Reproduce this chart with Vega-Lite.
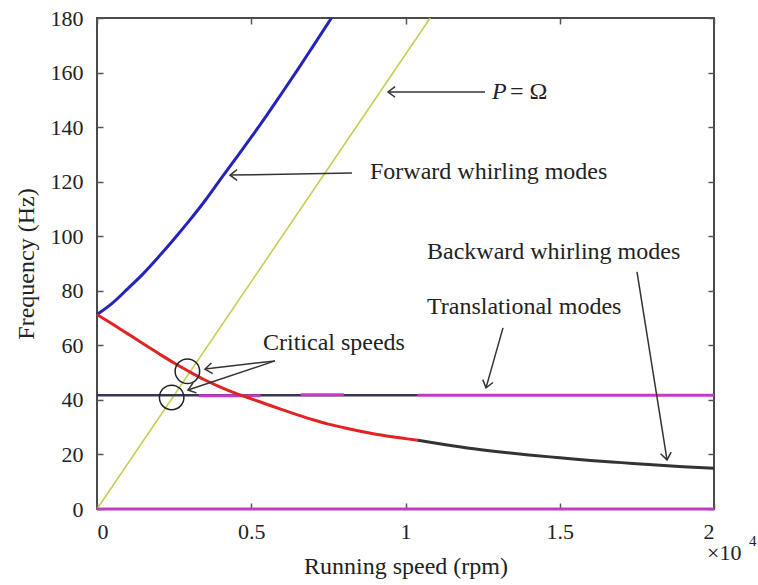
{
  "$schema": "https://vega.github.io/schema/vega-lite/v6.json",
  "width": 617,
  "height": 491,
  "autosize": "none",
  "padding": {"left": 97, "top": 18, "right": 44, "bottom": 76},
  "config": {
    "view": {"stroke": "#4a4a4a", "strokeWidth": 2},
    "font": "Liberation Serif",
    "axis": {
      "domain": false,
      "grid": false,
      "tickColor": "#555555",
      "tickWidth": 1.5,
      "tickSize": -6,
      "labelFont": "Liberation Serif",
      "labelFontSize": 22,
      "labelColor": "#222222",
      "titleFont": "Liberation Serif",
      "titleFontSize": 24,
      "titleFontWeight": "normal",
      "titleColor": "#222222"
    }
  },
  "datasets": {
    "curves": [
      {"series": "p", "seg": "a", "rpm": 0, "hz": 0},
      {"series": "p", "seg": "a", "rpm": 10800, "hz": 180},
      {"series": "fw", "seg": "a", "rpm": 0, "hz": 71.3},
      {"series": "fw", "seg": "a", "rpm": 500, "hz": 75.5},
      {"series": "fw", "seg": "a", "rpm": 1000, "hz": 80.8},
      {"series": "fw", "seg": "a", "rpm": 1500, "hz": 86.3},
      {"series": "fw", "seg": "a", "rpm": 2000, "hz": 92.5},
      {"series": "fw", "seg": "a", "rpm": 2500, "hz": 99},
      {"series": "fw", "seg": "a", "rpm": 3000, "hz": 105.8},
      {"series": "fw", "seg": "a", "rpm": 3500, "hz": 113},
      {"series": "fw", "seg": "a", "rpm": 4000, "hz": 120.8},
      {"series": "fw", "seg": "a", "rpm": 4500, "hz": 128.5},
      {"series": "fw", "seg": "a", "rpm": 5000, "hz": 136.3},
      {"series": "fw", "seg": "a", "rpm": 5500, "hz": 144.3},
      {"series": "fw", "seg": "a", "rpm": 6000, "hz": 152.6},
      {"series": "fw", "seg": "a", "rpm": 6500, "hz": 161},
      {"series": "fw", "seg": "a", "rpm": 7000, "hz": 169.6},
      {"series": "fw", "seg": "a", "rpm": 7600, "hz": 180},
      {"series": "bw", "seg": "a", "rpm": 0, "hz": 71.3},
      {"series": "bw", "seg": "a", "rpm": 500, "hz": 67.8},
      {"series": "bw", "seg": "a", "rpm": 1000, "hz": 64.2},
      {"series": "bw", "seg": "a", "rpm": 1500, "hz": 60.6},
      {"series": "bw", "seg": "a", "rpm": 2000, "hz": 57.0},
      {"series": "bw", "seg": "a", "rpm": 2500, "hz": 53.5},
      {"series": "bw", "seg": "a", "rpm": 3000, "hz": 50.3},
      {"series": "bw", "seg": "a", "rpm": 3500, "hz": 47.3},
      {"series": "bw", "seg": "a", "rpm": 4000, "hz": 44.7},
      {"series": "bw", "seg": "a", "rpm": 4500, "hz": 42.4},
      {"series": "bw", "seg": "a", "rpm": 5000, "hz": 40.4},
      {"series": "bw", "seg": "a", "rpm": 5500, "hz": 38.4},
      {"series": "bw", "seg": "a", "rpm": 6000, "hz": 36.4},
      {"series": "bw", "seg": "a", "rpm": 6500, "hz": 34.5},
      {"series": "bw", "seg": "a", "rpm": 7000, "hz": 32.7},
      {"series": "bw", "seg": "a", "rpm": 7500, "hz": 31.1},
      {"series": "bw", "seg": "a", "rpm": 8000, "hz": 29.8},
      {"series": "bw", "seg": "a", "rpm": 8500, "hz": 28.6},
      {"series": "bw", "seg": "a", "rpm": 9000, "hz": 27.5},
      {"series": "bw", "seg": "a", "rpm": 9500, "hz": 26.6},
      {"series": "bw", "seg": "a", "rpm": 10000, "hz": 25.8},
      {"series": "bw", "seg": "a", "rpm": 10400, "hz": 25.2},
      {"series": "bwtail", "seg": "a", "rpm": 10400, "hz": 25.2},
      {"series": "bwtail", "seg": "a", "rpm": 11000, "hz": 24.1},
      {"series": "bwtail", "seg": "a", "rpm": 12000, "hz": 22.4},
      {"series": "bwtail", "seg": "a", "rpm": 13000, "hz": 21.0},
      {"series": "bwtail", "seg": "a", "rpm": 14000, "hz": 19.8},
      {"series": "bwtail", "seg": "a", "rpm": 15000, "hz": 18.8},
      {"series": "bwtail", "seg": "a", "rpm": 16000, "hz": 17.8},
      {"series": "bwtail", "seg": "a", "rpm": 17000, "hz": 17.0},
      {"series": "bwtail", "seg": "a", "rpm": 18000, "hz": 16.2},
      {"series": "bwtail", "seg": "a", "rpm": 19000, "hz": 15.5},
      {"series": "bwtail", "seg": "a", "rpm": 20000, "hz": 14.9},
      {"series": "trdark", "seg": "a", "rpm": 0, "hz": 41.7},
      {"series": "trdark", "seg": "a", "rpm": 10400, "hz": 41.7},
      {"series": "trmag", "seg": "a", "rpm": 10400, "hz": 41.7},
      {"series": "trmag", "seg": "a", "rpm": 20000, "hz": 41.7},
      {"series": "trmag", "seg": "b", "rpm": 3300, "hz": 41.5},
      {"series": "trmag", "seg": "b", "rpm": 5300, "hz": 41.5},
      {"series": "trmag", "seg": "c", "rpm": 6600, "hz": 41.9},
      {"series": "trmag", "seg": "c", "rpm": 8000, "hz": 41.9},
      {"series": "zero", "seg": "a", "rpm": 0, "hz": 0},
      {"series": "zero", "seg": "a", "rpm": 20000, "hz": 0}
    ],
    "arrows": [
      {"arrow": "p", "rpm": 12577, "hz": 152.9, "rpm2": 9433, "hz2": 152.9},
      {"arrow": "fw", "rpm": 8266, "hz": 123.2, "rpm2": 4311, "hz2": 122.4},
      {"arrow": "cu", "rpm": 5770, "hz": 54.3, "rpm2": 3501, "hz2": 51.3},
      {"arrow": "cl", "rpm": 5770, "hz": 54.3, "rpm2": 2950, "hz2": 43.6},
      {"arrow": "tr", "rpm": 13160, "hz": 66.4, "rpm2": 12609, "hz2": 44.4},
      {"arrow": "bw", "rpm": 17504, "hz": 86.9, "rpm2": 18477, "hz2": 18.0}
    ],
    "labels": [
      {"text": "= Ω", "rpm": 13387, "hz": 152.9},
      {"text": "Forward whirling modes", "rpm": 8849, "hz": 123.5},
      {"text": "Critical speeds", "rpm": 5381, "hz": 60.9},
      {"text": "Translational modes", "rpm": 10697, "hz": 74.1},
      {"text": "Backward whirling modes", "rpm": 10697, "hz": 94.2}
    ],
    "italic": [
      {"text": "P", "rpm": 12804, "hz": 152.9}
    ],
    "circles": [
      {"rpm": 2420, "hz": 40.9},
      {"rpm": 2930, "hz": 50.5}
    ],
    "corner": [
      {"rpm": 20000, "hz": 0}
    ]
  },
  "resolve": {"axis": {"x": "independent", "y": "independent"}},
  "layer": [
    {
      "data": {"name": "curves"},
      "transform": [{"filter": "datum.series === 'p'"}],
      "mark": {"type": "line", "color": "#c8cc50", "strokeWidth": 1.6},
      "encoding": {
        "x": {"field": "rpm", "type": "quantitative", "scale": {"domain": [0, 20000]},
              "axis": {"orient": "bottom", "values": [0, 5000, 10000, 15000, 20000], "labelExpr": "datum.value / 10000", "labelFont": "Liberation Serif", "labelFontSize": 22, "labelPadding": 18, "title": "Running speed (rpm)", "titlePadding": 12}},
        "y": {"field": "hz", "type": "quantitative", "scale": {"domain": [0, 180]},
              "axis": {"orient": "left", "values": [0, 20, 40, 60, 80, 100, 120, 140, 160, 180], "labelFont": "Liberation Serif", "labelFontSize": 22, "labelPadding": 20, "title": "Frequency (Hz)", "titlePadding": 12}}
      }
    },
    {
      "data": {"name": "curves"},
      "transform": [{"filter": "datum.series === 'zero'"}],
      "mark": {"type": "line", "color": "#c03cc0", "strokeWidth": 3},
      "encoding": {
        "x": {"field": "rpm", "type": "quantitative", "scale": {"domain": [0, 20000]},
              "axis": {"orient": "top", "values": [0, 5000, 10000, 15000, 20000], "labels": false, "title": null}},
        "y": {"field": "hz", "type": "quantitative", "scale": {"domain": [0, 180]},
              "axis": {"orient": "right", "values": [0, 20, 40, 60, 80, 100, 120, 140, 160, 180], "labels": false, "title": null}}
      }
    },
    {
      "data": {"name": "curves"},
      "transform": [{"filter": "datum.series === 'fw'"}],
      "mark": {"type": "line", "color": "#2424b8", "strokeWidth": 3, "interpolate": "monotone"},
      "encoding": {
        "x": {"field": "rpm", "type": "quantitative", "axis": null},
        "y": {"field": "hz", "type": "quantitative", "axis": null}
      }
    },
    {
      "data": {"name": "curves"},
      "transform": [{"filter": "datum.series === 'trdark'"}],
      "mark": {"type": "line", "color": "#3a3552", "strokeWidth": 2.5},
      "encoding": {
        "x": {"field": "rpm", "type": "quantitative", "axis": null},
        "y": {"field": "hz", "type": "quantitative", "axis": null}
      }
    },
    {
      "data": {"name": "curves"},
      "transform": [{"filter": "datum.series === 'trmag'"}],
      "mark": {"type": "line", "color": "#c03cc0", "strokeWidth": 3},
      "encoding": {
        "x": {"field": "rpm", "type": "quantitative", "axis": null},
        "y": {"field": "hz", "type": "quantitative", "axis": null},
        "detail": {"field": "seg", "type": "nominal"}
      }
    },
    {
      "data": {"name": "curves"},
      "transform": [{"filter": "datum.series === 'bw'"}],
      "mark": {"type": "line", "color": "#e02424", "strokeWidth": 3, "interpolate": "monotone"},
      "encoding": {
        "x": {"field": "rpm", "type": "quantitative", "axis": null},
        "y": {"field": "hz", "type": "quantitative", "axis": null}
      }
    },
    {
      "data": {"name": "curves"},
      "transform": [{"filter": "datum.series === 'bwtail'"}],
      "mark": {"type": "line", "color": "#333333", "strokeWidth": 3, "interpolate": "monotone"},
      "encoding": {
        "x": {"field": "rpm", "type": "quantitative", "axis": null},
        "y": {"field": "hz", "type": "quantitative", "axis": null}
      }
    },
    {
      "data": {"name": "circles"},
      "mark": {"type": "point", "shape": "circle", "filled": false, "size": 600, "stroke": "#222222", "strokeWidth": 1.5, "opacity": 1},
      "encoding": {
        "x": {"field": "rpm", "type": "quantitative", "axis": null},
        "y": {"field": "hz", "type": "quantitative", "axis": null}
      }
    },
    {
      "data": {"name": "arrows"},
      "mark": {"type": "rule", "color": "#333333", "strokeWidth": 1.5},
      "encoding": {
        "x": {"field": "rpm", "type": "quantitative", "axis": null},
        "y": {"field": "hz", "type": "quantitative", "axis": null},
        "x2": {"field": "rpm2"},
        "y2": {"field": "hz2"}
      }
    },
    {
      "data": {"name": "arrows"},
      "mark": {"type": "point", "shape": "M -1 -0.75 L 0 0 L -1 0.75", "filled": false, "size": 200, "stroke": "#333333", "strokeWidth": 1.5, "opacity": 1},
      "encoding": {
        "x": {"field": "rpm2", "type": "quantitative", "axis": null},
        "y": {"field": "hz2", "type": "quantitative", "axis": null},
        "angle": {"field": "arrow", "type": "nominal", "legend": null,
                  "scale": {"type": "ordinal", "domain": ["p", "fw", "cu", "cl", "tr", "bw"], "range": [180, 179, 173.5, 161.6, 105.8, 80.9]}}
      }
    },
    {
      "data": {"name": "labels"},
      "mark": {"type": "text", "align": "left", "baseline": "middle", "font": "Liberation Serif", "fontSize": 24, "color": "#222222"},
      "encoding": {
        "x": {"field": "rpm", "type": "quantitative", "axis": null},
        "y": {"field": "hz", "type": "quantitative", "axis": null},
        "text": {"field": "text"}
      }
    },
    {
      "data": {"name": "italic"},
      "mark": {"type": "text", "align": "left", "baseline": "middle", "font": "Liberation Serif", "fontStyle": "italic", "fontSize": 24, "color": "#222222"},
      "encoding": {
        "x": {"field": "rpm", "type": "quantitative", "axis": null},
        "y": {"field": "hz", "type": "quantitative", "axis": null},
        "text": {"field": "text"}
      }
    },
    {
      "data": {"name": "corner"},
      "mark": {"type": "text", "align": "left", "baseline": "middle", "font": "Liberation Serif", "fontSize": 22, "color": "#222222", "dx": -7, "dy": 44, "text": "×10"},
      "encoding": {
        "x": {"field": "rpm", "type": "quantitative", "axis": null},
        "y": {"field": "hz", "type": "quantitative", "axis": null}
      }
    },
    {
      "data": {"name": "corner"},
      "mark": {"type": "text", "align": "left", "baseline": "middle", "font": "Liberation Serif", "fontSize": 15, "color": "#222222", "dx": 35, "dy": 32, "text": "4"},
      "encoding": {
        "x": {"field": "rpm", "type": "quantitative", "axis": null},
        "y": {"field": "hz", "type": "quantitative", "axis": null}
      }
    }
  ]
}
